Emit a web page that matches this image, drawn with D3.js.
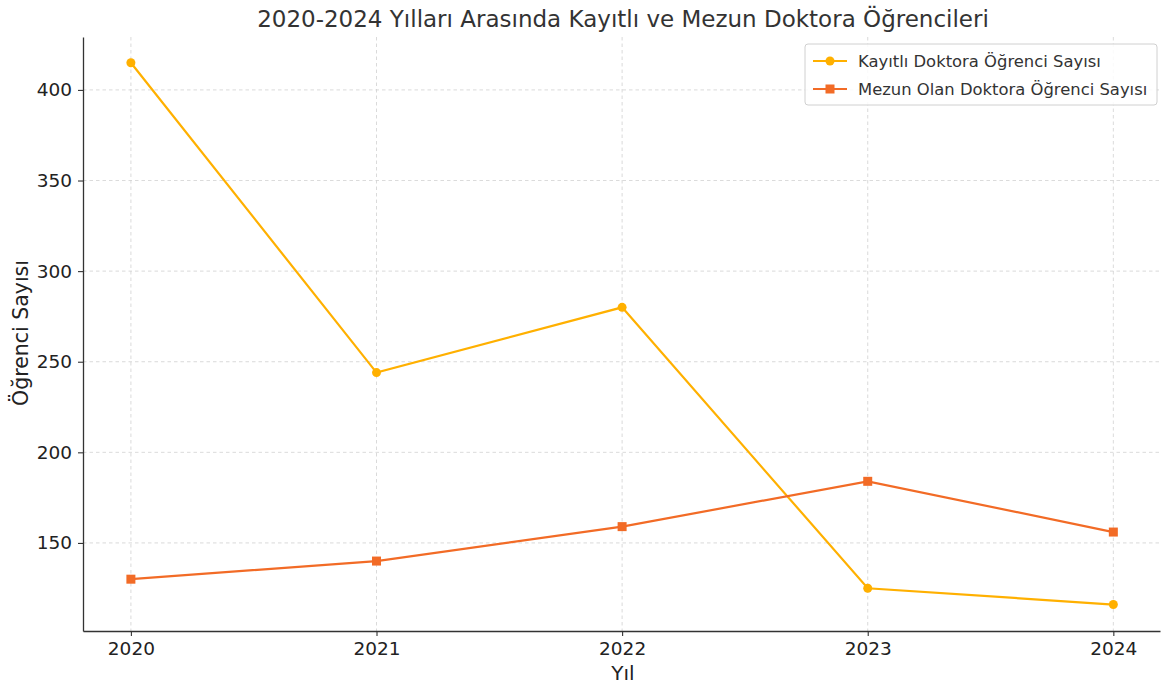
<!DOCTYPE html>
<html>
<head>
<meta charset="utf-8">
<script src="https://cdn.jsdelivr.net/npm/d3@7"></script>
<style>
  body { margin: 0; background: #fff; }
  svg { font-family: "DejaVu Sans", sans-serif; }
</style>
</head>
<body>
<svg id="chart"></svg>
<script>
const years = [2020, 2021, 2022, 2023, 2024];
const enrolled = [415, 244, 280, 125, 116];
const graduated = [130, 140, 159, 184, 156];
const yTicks = [150, 200, 250, 300, 350, 400];

const width = 1162, height = 685;
const margin = { top: 37, right: 2, bottom: 54, left: 83 };
const innerW = width - margin.left - margin.right;
const innerH = height - margin.top - margin.bottom;

const svg = d3.select('#chart')
  .attr('width', width)
  .attr('height', height);

const g = svg.append('g')
  .attr('transform', `translate(${margin.left},${margin.top})`);

const x = d3.scaleLinear().domain([2019.805, 2024.19]).range([0, innerW]);
const y = d3.scaleLinear().domain([101.4, 429.2]).range([innerH, 0]);

// grid
g.append('g').selectAll('line').data(years).enter().append('line')
  .attr('x1', d => x(d)).attr('x2', d => x(d))
  .attr('y1', 0).attr('y2', innerH)
  .attr('stroke', '#d0d0d0').attr('stroke-dasharray', '3.5,3').attr('stroke-width', 0.8);
g.append('g').selectAll('line').data(yTicks).enter().append('line')
  .attr('x1', 0).attr('x2', innerW)
  .attr('y1', d => y(d)).attr('y2', d => y(d))
  .attr('stroke', '#d0d0d0').attr('stroke-dasharray', '3.5,3').attr('stroke-width', 0.8);

// axes
const xAxis = g.append('g')
  .attr('transform', `translate(0,${innerH})`)
  .call(d3.axisBottom(x).tickValues(years).tickFormat(d3.format('d')).tickSize(5).tickSizeOuter(0).tickPadding(6));
const yAxis = g.append('g')
  .call(d3.axisLeft(y).tickValues(yTicks).tickSize(5).tickSizeOuter(0).tickPadding(6));
[xAxis, yAxis].forEach(a => {
  a.select('.domain').attr('stroke', '#333').attr('stroke-width', 1.3);
  a.selectAll('.tick line').attr('stroke', '#333').attr('stroke-width', 1.1);
  a.selectAll('text').attr('fill', '#222').style('font-size', '18.5px').style('font-family', '"DejaVu Sans", sans-serif');
});

const series = [
  { name: 'Kayıtlı Doktora Öğrenci Sayısı', values: enrolled, color: '#FFB000', marker: 'circle' },
  { name: 'Mezun Olan Doktora Öğrenci Sayısı', values: graduated, color: '#F26B26', marker: 'square' }
];

const line = d3.line().x(d => x(d[0])).y(d => y(d[1]));

series.forEach(s => {
  const pts = years.map((yr, i) => [yr, s.values[i]]);
  g.append('path').datum(pts)
    .attr('fill', 'none').attr('stroke', s.color).attr('stroke-width', 2.2)
    .attr('d', line);
  if (s.marker === 'circle') {
    g.selectAll(null).data(pts).enter().append('circle')
      .attr('cx', d => x(d[0])).attr('cy', d => y(d[1])).attr('r', 4.5)
      .attr('fill', s.color);
  } else {
    g.selectAll(null).data(pts).enter().append('rect')
      .attr('x', d => x(d[0]) - 4.5).attr('y', d => y(d[1]) - 4.5)
      .attr('width', 9).attr('height', 9)
      .attr('fill', s.color);
  }
});

// title and labels
svg.append('text')
  .attr('x', 623).attr('y', 27)
  .attr('text-anchor', 'middle').attr('fill', '#333')
  .style('font-size', '23px')
  .text('2020-2024 Yılları Arasında Kayıtlı ve Mezun Doktora Öğrencileri');

svg.append('text')
  .attr('x', 623).attr('y', 680)
  .attr('text-anchor', 'middle').attr('fill', '#222')
  .style('font-size', '20px')
  .text('Yıl');

svg.append('text')
  .attr('transform', `translate(28,333) rotate(-90)`)
  .attr('text-anchor', 'middle').attr('fill', '#222')
  .style('font-size', '20.5px')
  .text('Öğrenci Sayısı');

// legend
const leg = svg.append('g').attr('transform', 'translate(805,44)');
leg.append('rect')
  .attr('width', 352).attr('height', 61).attr('rx', 3)
  .attr('fill', '#fff').attr('fill-opacity', 0.85)
  .attr('stroke', '#d0d0d0');
series.forEach((s, i) => {
  const cy = 17 + i * 28;
  leg.append('line').attr('x1', 8).attr('x2', 42).attr('y1', cy).attr('y2', cy)
    .attr('stroke', s.color).attr('stroke-width', 2.2);
  if (s.marker === 'circle') {
    leg.append('circle').attr('cx', 25).attr('cy', cy).attr('r', 4.5).attr('fill', s.color);
  } else {
    leg.append('rect').attr('x', 20.5).attr('y', cy - 4.5).attr('width', 9).attr('height', 9).attr('fill', s.color);
  }
  leg.append('text').attr('x', 53).attr('y', cy).attr('dy', '0.35em')
    .attr('fill', '#333').style('font-size', '16.4px')
    .text(s.name);
});
</script>
</body>
</html>
